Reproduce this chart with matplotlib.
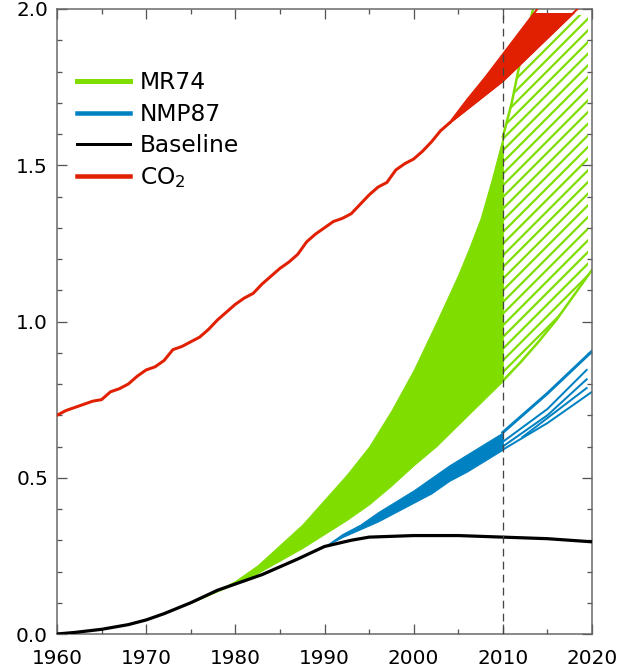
import numpy as np
import matplotlib
matplotlib.use("Agg")
import matplotlib.pyplot as plt
from matplotlib.patches import Rectangle
from matplotlib.ticker import MultipleLocator

DPI = 140
GREEN = "#7FDD00"
BLUE = "#0081C2"
RED = "#E02000"

# ---- data -----------------------------------------------------------------
base_years = [1960, 1962, 1965, 1968, 1970, 1972, 1975, 1978, 1980, 1983, 1985,
              1987, 1990, 1993, 1995, 2000, 2005, 2010, 2015, 2020]
baseline = [0.0, 0.005, 0.015, 0.03, 0.045, 0.065, 0.10, 0.14, 0.16, 0.19, 0.215,
            0.24, 0.28, 0.30, 0.31, 0.315, 0.315, 0.31, 0.305, 0.295]

co2_years = list(range(1960, 2005))
co2 = [0.70, 0.715, 0.725, 0.735, 0.745, 0.75, 0.775, 0.785, 0.80, 0.825,
       0.845, 0.855, 0.875, 0.91, 0.92, 0.935, 0.95, 0.975, 1.005, 1.03,
       1.055, 1.075, 1.09, 1.12, 1.145, 1.17, 1.19, 1.215, 1.255, 1.28,
       1.30, 1.32, 1.33, 1.345, 1.375, 1.405, 1.43, 1.445, 1.485, 1.505,
       1.52, 1.545, 1.575, 1.61, 1.635]
co2_proj_years = [2004, 2006, 2008, 2010, 2012, 2014, 2016, 2018, 2020]
co2_hi = [1.635, 1.71, 1.78, 1.855, 1.93, 2.005, 2.08, 2.155, 2.23]
co2_lo = [1.635, 1.68, 1.725, 1.77, 1.825, 1.88, 1.935, 1.99, 2.045]

mr_years = [1975, 1977, 1980, 1982.5, 1985, 1987.5, 1990, 1992.5, 1995, 1997.5,
            2000, 2002.5, 2005, 2006.25, 2007.5, 2008.75, 2010]
mr_hi = [0.10, 0.125, 0.17, 0.22, 0.285, 0.35, 0.43, 0.51, 0.60, 0.715,
         0.845, 0.995, 1.15, 1.237, 1.33, 1.454, 1.59]
mr_lo = [0.10, 0.125, 0.16, 0.195, 0.235, 0.275, 0.32, 0.365, 0.415, 0.475,
         0.54, 0.60, 0.67, 0.705, 0.74, 0.775, 0.81]
mr_hi_years = [2010, 2011, 2011.9, 2012.7, 2013.4, 2014, 2016, 2020]
mr_proj_hi = [1.59, 1.70, 1.826, 1.92, 2.0, 2.07, 2.3, 2.7]
mr_lo_years = [2010, 2012, 2014, 2016, 2018, 2020]
mr_proj_lo = [0.81, 0.87, 0.935, 1.005, 1.085, 1.165]

nmp_years = [1990, 1992, 1994, 1996, 1998, 2000, 2002, 2004, 2006, 2008, 2010]
nmp_lo = [0.28, 0.31, 0.335, 0.36, 0.39, 0.42, 0.45, 0.49, 0.52, 0.555, 0.59]
nmp_hi = [0.28, 0.32, 0.35, 0.39, 0.425, 0.46, 0.50, 0.54, 0.575, 0.61, 0.645]
nmp_proj = [
    ([2010, 2015, 2020], [0.645, 0.77, 0.905]),
    ([2010, 2015, 2019.4], [0.615, 0.72, 0.845]),
    ([2010, 2015, 2019.4], [0.60, 0.70, 0.815]),
    ([2012.2, 2019.4], [0.63, 0.787]),
    ([2010, 2015, 2020], [0.59, 0.675, 0.775]),
]

labels = ["MR74", "NMP87", "Baseline", r"CO$_2$"]


def px(v):
    """pixels -> points at the output dpi"""
    return v * 72.0 / DPI


plt.rcParams["hatch.linewidth"] = px(2.2)
plt.rcParams["font.family"] = "DejaVu Sans"

fig = plt.figure(figsize=(623 / DPI, 672 / DPI), dpi=DPI)
ax = fig.add_axes([57 / 623, 1 - 634 / 672, 535 / 623, 625 / 672])
ax.set_xlim(1960, 2020)
ax.set_ylim(0, 2.0)

# MR74 range: solid to 2010, hatched projection afterwards
ax.fill_between(mr_years, mr_lo, mr_hi, color=GREEN, lw=0.5, zorder=1)
hatch = ax.fill(mr_lo_years + mr_hi_years[::-1], mr_proj_lo + mr_proj_hi[::-1],
                facecolor="none", edgecolor=GREEN, hatch="////", lw=0,
                zorder=1)[0]
hatch.set_clip_path(Rectangle((1960, 0), 59.6, 1.98, transform=ax.transData))
ax.plot(mr_hi_years, mr_proj_hi, color=GREEN, lw=px(2.5), zorder=1.5)
ax.plot(mr_lo_years, mr_proj_lo, color=GREEN, lw=px(2.5), zorder=1.5)

# NMP87 range
ax.fill_between(nmp_years, nmp_lo, nmp_hi, color=BLUE, lw=0.5, zorder=2)
for i, (yrs, vals) in enumerate(nmp_proj):
    ax.plot(yrs, vals, color=BLUE, lw=px(3 if i == 0 else 2), zorder=2)

# CO2
wedge = ax.fill_between(co2_proj_years, co2_lo, co2_hi, color=RED, lw=0.5, zorder=3)
wedge.set_clip_path(Rectangle((1960, 0), 60, 1.987, transform=ax.transData))
ax.plot(co2_proj_years, co2_hi, color=RED, lw=px(2), zorder=3)
ax.plot(co2_proj_years, co2_lo, color=RED, lw=px(2), zorder=3)
ax.plot(co2_years, co2, color=RED, lw=px(3), zorder=3)

# Baseline
ax.plot(base_years, baseline, color="black", lw=px(3.2), zorder=4)

# 2010 marker
ax.axvline(2010, color="#444444", lw=px(1.3), dashes=(6, 4), zorder=5)

# legend
handles = [
    plt.Line2D([], [], color=GREEN, lw=px(5)),
    plt.Line2D([], [], color=BLUE, lw=px(4.5)),
    plt.Line2D([], [], color="black", lw=px(3)),
    plt.Line2D([], [], color=RED, lw=px(4.5)),
]
ax.legend(handles, labels, loc="upper left", bbox_to_anchor=(8 / 535, 0.919),
          frameon=False, borderpad=0, fontsize=12, handlelength=2.27,
          handletextpad=0.43, labelspacing=0.36)

# axes styling
ax.xaxis.set_major_locator(MultipleLocator(10))
ax.xaxis.set_minor_locator(MultipleLocator(5))
ax.yaxis.set_major_locator(MultipleLocator(0.5))
ax.yaxis.set_minor_locator(MultipleLocator(0.1))
ax.yaxis.set_major_formatter(lambda v, p: f"{v:.1f}")
ax.tick_params(which="both", direction="in", top=True, right=True,
               color="#555555", width=px(1.3), labelsize=10.3)
ax.tick_params(which="major", length=px(10))
ax.tick_params(which="minor", length=px(5))
ax.tick_params(axis="x", which="major", pad=px(15))
ax.tick_params(axis="y", which="major", pad=px(9))
for s in ax.spines.values():
    s.set_color("#666666")
    s.set_linewidth(px(1.5))

fig.savefig("out.png", dpi=DPI)
